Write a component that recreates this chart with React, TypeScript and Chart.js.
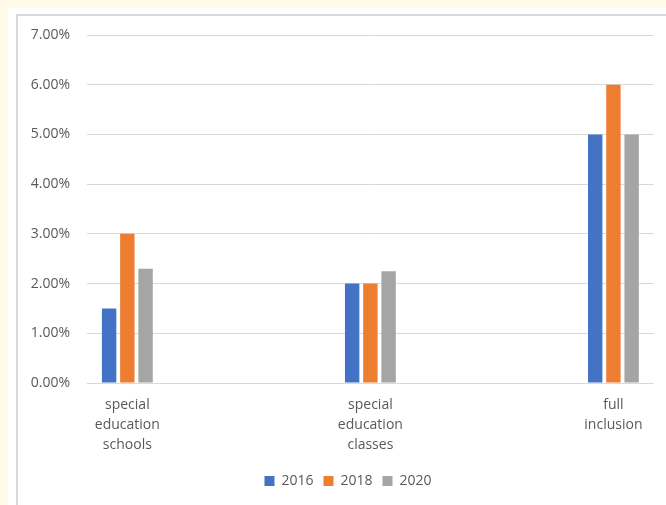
import React, { useEffect, useRef } from "react";
import { Chart, registerables } from "chart.js";

Chart.register(...registerables);

const categories: string[][] = [
  ["special", "education", "schools"],
  ["special", "education", "classes"],
  ["full", "inclusion"],
];
const years = ["2016", "2018", "2020"];
const values2016 = [0.015, 0.02, 0.05];
const values2018 = [0.03, 0.02, 0.06];
const values2020 = [0.023, 0.0225, 0.05];
const colors = ["#4472C4", "#ED7D31", "#A5A5A5"];
const yTicks = [0, 0.01, 0.02, 0.03, 0.04, 0.05, 0.06, 0.07];

const FONT = "'Open Sans', sans-serif";
const TEXT = "#595959";

const shiftLegend = {
  id: "shiftLegend",
  afterLayout(chart: any) {
    const l = chart.legend;
    if (l) {
      l.left += 12;
      l.right += 12;
    }
  },
};

export default function App() {
  const ref = useRef<HTMLCanvasElement | null>(null);

  useEffect(() => {
    document.body.style.background = "#FFFBE6";
    const series = [values2016, values2018, values2020];
    const chart = new Chart(ref.current as HTMLCanvasElement, {
      type: "bar",
      data: {
        datasets: series.map((vals, i) => ({
          label: years[i],
          data: vals.map((v, j) => ({ x: j, y: v })),
          backgroundColor: colors[i],
          borderWidth: 0,
          categoryPercentage: 0.225,
          barPercentage: 0.79,
        })),
      },
      plugins: [shiftLegend],
      options: {
        responsive: false,
        animation: false,
        layout: { padding: { top: 19, right: 12, bottom: 7, left: 0 } },
        plugins: {
          tooltip: { enabled: false },
          legend: {
            position: "bottom",
            labels: {
              boxWidth: 10,
              boxHeight: 10,
              padding: 10,
              color: TEXT,
              font: { family: FONT, size: 14 },
            },
          },
        },
        scales: {
          x: {
            type: "linear",
            offset: false,
            min: -0.166,
            max: 2.167,
            grid: { display: false, drawTicks: false, offset: false },
            border: { display: false },
            afterBuildTicks: (scale: any) => {
              scale.ticks = categories.map((_, i) => ({ value: i }));
            },
            afterFit: (scale: any) => {
              scale.height = 81;
            },
            ticks: {
              color: TEXT,
              padding: 12,
              maxRotation: 0,
              autoSkip: false,
              font: { family: FONT, size: 14, lineHeight: 20 / 14 },
              callback: (v: any) => categories[Number(v)] ?? "",
            },
          },
          y: {
            min: 0,
            max: 0.07,
            grid: { color: "#D9D9D9", lineWidth: 1, drawTicks: false },
            border: { display: false },
            afterBuildTicks: (scale: any) => {
              scale.ticks = yTicks.map((v) => ({ value: v }));
            },
            afterFit: (scale: any) => {
              scale.width = 69;
              scale.paddingTop = 8;
              scale.paddingBottom = 8;
            },
            ticks: {
              color: TEXT,
              padding: 17,
              font: { family: FONT, size: 14 },
              callback: (v: any) => (Number(v) * 100).toFixed(2) + "%",
            },
          },
        },
      },
    } as any);
    return () => chart.destroy();
  }, []);

  return (
    <div
      style={{
        position: "absolute",
        left: 8,
        top: 8,
        width: 658,
        height: 497,
        background: "#FFFFFF",
        overflow: "hidden",
      }}
    >
      <div
        style={{
          position: "absolute",
          left: 8,
          top: 6,
          width: 700,
          height: 600,
          borderLeft: "2px solid #D9D9D9",
          borderTop: "2px solid #D9D9D9",
        }}
      />
      <canvas
        ref={ref}
        width={648}
        height={489}
        style={{ position: "absolute", left: 10, top: 8, width: 648, height: 489 }}
      />
    </div>
  );
}
